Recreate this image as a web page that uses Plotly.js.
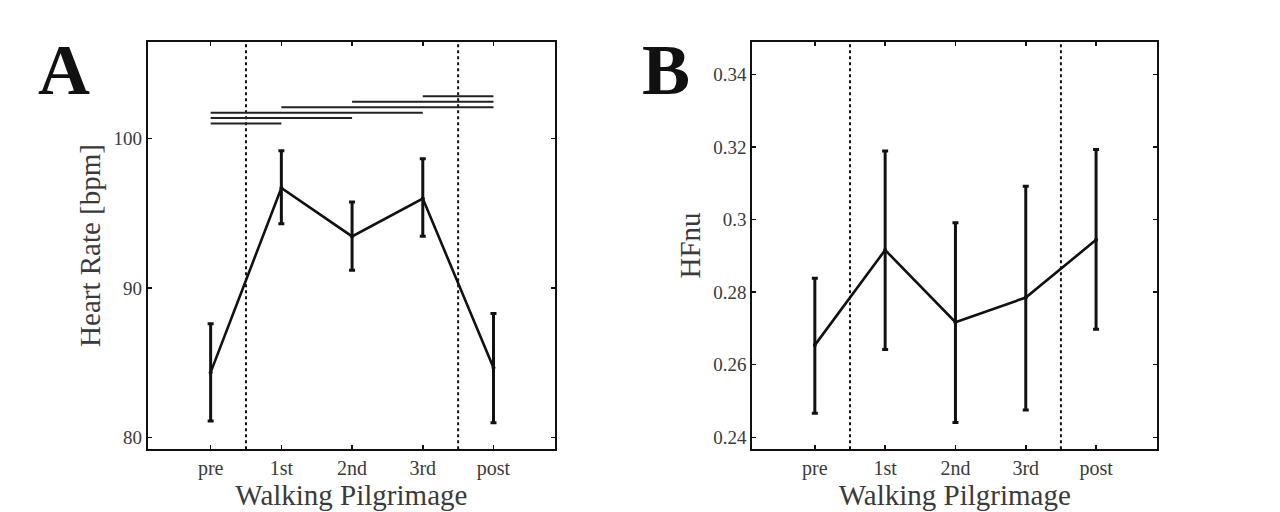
<!DOCTYPE html>
<html>
<head>
<meta charset="utf-8">
<script src="https://cdn.plot.ly/plotly-3.0.1.min.js"></script>
<style>
  html, body { margin: 0; padding: 0; background: #fff; }
  #chart { width: 1280px; height: 512px; }
</style>
</head>
<body>
<div id="chart"></div>
<script>
const phases = [1, 2, 3, 4, 5];
const phaseLabels = ['pre', '1st', '2nd', '3rd', 'post'];

// panel A: heart rate
const hrMean = [84.35, 96.7, 93.46, 95.99, 84.66];
const hrUpper = [87.6, 99.2, 95.76, 98.66, 88.3];
const hrLower = [81.1, 94.3, 91.19, 93.46, 80.98];

// significance bars above panel A
const sigFrom = [4, 3, 2, 1, 1, 1];
const sigTo = [5, 5, 5, 4, 3, 2];
const sigLevel = [102.85, 102.47, 102.11, 101.74, 101.38, 101.02];

// panel B: HFnu
const hfMean = [0.2654, 0.2916, 0.2717, 0.2785, 0.2944];
const hfUpper = [0.2838, 0.3189, 0.2991, 0.3092, 0.3193];
const hfLower = [0.2466, 0.2642, 0.2441, 0.2475, 0.2698];

// walking period boundaries
const boundaries = [1.5, 4.5];

const serif = 'Liberation Serif, Times New Roman, serif';
const grey = '#3a3a3a';

function meanTrace(mean, upper, lower, xa, ya) {
    return {
        x: phases,
        y: mean,
        xaxis: xa,
        yaxis: ya,
        type: 'scatter',
        mode: 'lines+markers',
        line: { color: '#111', width: 2.6 },
        marker: { color: '#111', size: 4 },
        error_y: {
            type: 'data',
            symmetric: false,
            array: upper.map((u, i) => u - mean[i]),
            arrayminus: mean.map((m, i) => m - lower[i]),
            color: '#111',
            thickness: 3,
            width: 3
        },
        hoverinfo: 'skip',
        showlegend: false
    };
}

const data = [
    meanTrace(hrMean, hrUpper, hrLower, 'x', 'y'),
    meanTrace(hfMean, hfUpper, hfLower, 'x2', 'y2')
];

const shapes = [];
boundaries.forEach(b => {
    ['', '2'].forEach(s => {
        shapes.push({
            type: 'line', xref: 'x' + s, yref: 'y' + s + ' domain',
            x0: b, x1: b, y0: 0, y1: 1,
            line: { color: '#111', width: 2, dash: 'dot' }
        });
    });
});
sigFrom.forEach((f, i) => {
    shapes.push({
        type: 'line', xref: 'x', yref: 'y',
        x0: f, x1: sigTo[i], y0: sigLevel[i], y1: sigLevel[i],
        line: { color: '#222', width: 2 }
    });
});

function xAxis(domain, anchor) {
    return {
        domain: domain, anchor: anchor,
        range: [0.11, 5.87],
        tickvals: phases, ticktext: phaseLabels,
        ticks: 'inside', ticklen: 4, tickwidth: 1.5, tickcolor: '#111',
        showline: true, linecolor: '#111', linewidth: 2, mirror: 'allticks',
        showgrid: false, zeroline: false,
        tickfont: { family: serif, size: 20, color: grey },
        title: { text: 'Walking Pilgrimage', standoff: 2,
                 font: { family: serif, size: 29, color: grey } }
    };
}

function yAxis(domain, anchor, range, tickvals, ticktext, title) {
    return {
        domain: domain, anchor: anchor,
        range: range, tickvals: tickvals, ticktext: ticktext,
        ticks: 'inside', ticklen: 4, tickwidth: 1.5, tickcolor: '#111',
        showline: true, linecolor: '#111', linewidth: 2, mirror: 'allticks',
        showgrid: false, zeroline: false,
        tickfont: { family: serif, size: 19, color: grey },
        title: { text: title, standoff: 4,
                 font: { family: serif, size: 29, color: grey } }
    };
}

const layout = {
    width: 1280, height: 512,
    margin: { l: 0, r: 0, t: 0, b: 0 },
    paper_bgcolor: '#fff', plot_bgcolor: '#fff',
    xaxis: xAxis([0.1154, 0.4336], 'y'),
    yaxis: yAxis([0.1225, 0.9186], 'x', [79.2, 106.5], [80, 90, 100], ['80', '90', '100'], 'Heart Rate [bpm]'),
    xaxis2: xAxis([0.5877, 0.9041], 'y2'),
    yaxis2: yAxis([0.1225, 0.9186], 'x2', [0.2367, 0.349],
        [0.24, 0.26, 0.28, 0.30, 0.32, 0.34],
        ['0.24', '0.26', '0.28', '0.3', '0.32', '0.34'], 'HFnu'),
    shapes: shapes,
    annotations: [
        { text: '<b>A</b>', xref: 'paper', yref: 'paper', x: 63.5 / 1280, y: 1 - 70 / 512,
          xanchor: 'center', yanchor: 'middle',
          showarrow: false, font: { family: serif, size: 72, color: '#111' } },
        { text: '<b>B</b>', xref: 'paper', yref: 'paper', x: 666 / 1280, y: 1 - 70 / 512,
          xanchor: 'center', yanchor: 'middle',
          showarrow: false, font: { family: serif, size: 72, color: '#111' } }
    ]
};

Plotly.newPlot('chart', data, layout, { staticPlot: true, displayModeBar: false });
</script>
</body>
</html>
